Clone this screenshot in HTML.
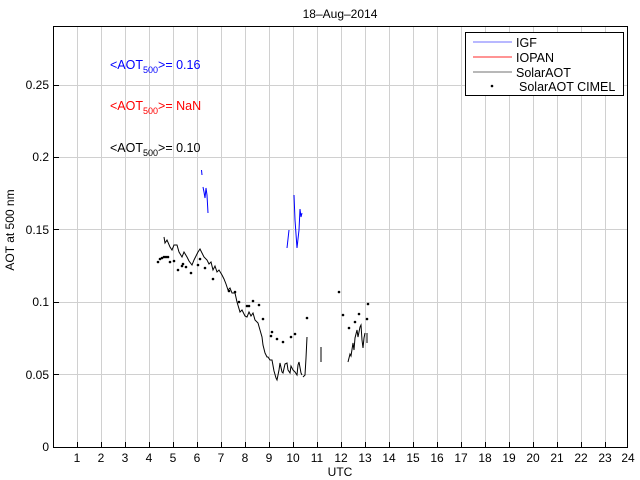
<!DOCTYPE html>
<html><head><meta charset="utf-8"><style>body{margin:0;background:#fff}svg{display:block}text{font-family:"Liberation Sans",sans-serif}</style></head>
<body>
<svg width="640" height="480" viewBox="0 0 640 480" xmlns="http://www.w3.org/2000/svg">
<rect width="640" height="480" fill="#fff"/>
<g stroke="#d0d0d0" stroke-width="1">
<line x1="77.5" y1="26" x2="77.5" y2="447"/><line x1="101.5" y1="26" x2="101.5" y2="447"/><line x1="125.5" y1="26" x2="125.5" y2="447"/><line x1="149.5" y1="26" x2="149.5" y2="447"/><line x1="173.5" y1="26" x2="173.5" y2="447"/><line x1="197.5" y1="26" x2="197.5" y2="447"/><line x1="221.5" y1="26" x2="221.5" y2="447"/><line x1="245.5" y1="26" x2="245.5" y2="447"/><line x1="269.5" y1="26" x2="269.5" y2="447"/><line x1="293.5" y1="26" x2="293.5" y2="447"/><line x1="317.5" y1="26" x2="317.5" y2="447"/><line x1="341.5" y1="26" x2="341.5" y2="447"/><line x1="365.5" y1="26" x2="365.5" y2="447"/><line x1="389.5" y1="26" x2="389.5" y2="447"/><line x1="413.5" y1="26" x2="413.5" y2="447"/><line x1="437.5" y1="26" x2="437.5" y2="447"/><line x1="461.5" y1="26" x2="461.5" y2="447"/><line x1="485.5" y1="26" x2="485.5" y2="447"/><line x1="509.5" y1="26" x2="509.5" y2="447"/><line x1="533.5" y1="26" x2="533.5" y2="447"/><line x1="557.5" y1="26" x2="557.5" y2="447"/><line x1="581.5" y1="26" x2="581.5" y2="447"/><line x1="605.5" y1="26" x2="605.5" y2="447"/>
<line x1="54" y1="374.5" x2="628" y2="374.5"/><line x1="54" y1="302.5" x2="628" y2="302.5"/><line x1="54" y1="229.5" x2="628" y2="229.5"/><line x1="54" y1="157.5" x2="628" y2="157.5"/><line x1="54" y1="85.5" x2="628" y2="85.5"/>
</g>
<rect x="53.5" y="26.5" width="574" height="421" fill="none" stroke="#000"/>
<g stroke="#000">
<line x1="77.5" y1="447" x2="77.5" y2="442"/><line x1="101.5" y1="447" x2="101.5" y2="442"/><line x1="125.5" y1="447" x2="125.5" y2="442"/><line x1="149.5" y1="447" x2="149.5" y2="442"/><line x1="173.5" y1="447" x2="173.5" y2="442"/><line x1="197.5" y1="447" x2="197.5" y2="442"/><line x1="221.5" y1="447" x2="221.5" y2="442"/><line x1="245.5" y1="447" x2="245.5" y2="442"/><line x1="269.5" y1="447" x2="269.5" y2="442"/><line x1="293.5" y1="447" x2="293.5" y2="442"/><line x1="317.5" y1="447" x2="317.5" y2="442"/><line x1="341.5" y1="447" x2="341.5" y2="442"/><line x1="365.5" y1="447" x2="365.5" y2="442"/><line x1="389.5" y1="447" x2="389.5" y2="442"/><line x1="413.5" y1="447" x2="413.5" y2="442"/><line x1="437.5" y1="447" x2="437.5" y2="442"/><line x1="461.5" y1="447" x2="461.5" y2="442"/><line x1="485.5" y1="447" x2="485.5" y2="442"/><line x1="509.5" y1="447" x2="509.5" y2="442"/><line x1="533.5" y1="447" x2="533.5" y2="442"/><line x1="557.5" y1="447" x2="557.5" y2="442"/><line x1="581.5" y1="447" x2="581.5" y2="442"/><line x1="605.5" y1="447" x2="605.5" y2="442"/>
<line x1="54" y1="374.5" x2="59" y2="374.5"/><line x1="54" y1="302.5" x2="59" y2="302.5"/><line x1="54" y1="229.5" x2="59" y2="229.5"/><line x1="54" y1="157.5" x2="59" y2="157.5"/><line x1="54" y1="85.5" x2="59" y2="85.5"/>
</g>
<g font-size="12" text-anchor="middle" fill="#000">
<text x="77" y="462">1</text><text x="101" y="462">2</text><text x="125" y="462">3</text><text x="149" y="462">4</text><text x="173" y="462">5</text><text x="197" y="462">6</text><text x="221" y="462">7</text><text x="245" y="462">8</text><text x="269" y="462">9</text><text x="293" y="462">10</text><text x="317" y="462">11</text><text x="341" y="462">12</text><text x="365" y="462">13</text><text x="389" y="462">14</text><text x="413" y="462">15</text><text x="437" y="462">16</text><text x="461" y="462">17</text><text x="485" y="462">18</text><text x="509" y="462">19</text><text x="533" y="462">20</text><text x="557" y="462">21</text><text x="581" y="462">22</text><text x="605" y="462">23</text><text x="628" y="462">24</text>
<text x="340" y="476">UTC</text>
<text x="340" y="18">18–Aug–2014</text>
</g>
<g font-size="12" text-anchor="end">
<text x="49" y="451">0</text><text x="49" y="379">0.05</text><text x="49" y="306">0.1</text><text x="49" y="234">0.15</text><text x="49" y="161">0.2</text><text x="49" y="89">0.25</text>
</g>
<text x="14" y="230" font-size="12" text-anchor="middle" transform="rotate(-90 14 230)">AOT at 500 nm</text>
<text x="110" y="69" font-size="12.5" fill="#0000ff">&lt;AOT<tspan font-size="9" dy="4">500</tspan><tspan dy="-4">&gt;= 0.16</tspan></text>
<text x="110" y="110" font-size="12.5" fill="#ff0000">&lt;AOT<tspan font-size="9" dy="4">500</tspan><tspan dy="-4">&gt;=  NaN</tspan></text>
<text x="110" y="152" font-size="12.5" fill="#000">&lt;AOT<tspan font-size="9" dy="4">500</tspan><tspan dy="-4">&gt;= 0.10</tspan></text>
<g fill="none" stroke="#000" stroke-width="1">
<polyline points="164,237 165,243 167,240 170,247 172,250 174,245 177,245 179,252 182,257 184,252 187,257 189,261 192,265 194,260 196,256 198,252 200,249 202,253 204,257 207,260 209,264 211,262 213,270 215,266 217,272 219,270 222,275 224,279 226,284 228,290 230,288 232,293 235,293 237,302 240,312 242,310 245,316 247,317 249,312 251,316 253,313 255,320 258,323 260,330 262,337 263,345 265,353 267,357 268,357 270,360 272,360 274,371 276,378 277,380 279,370 280,363 282,372 283,373 285,364 287,363 288,370 290,373 291,366 293,370 295,372 297,375 298,365 299,362 301,373 302,375"/>
<polyline points="303,377 305,375 306,358 307,337"/>
<polyline points="321,347 321,362"/>
<polyline points="348,362 350,354 351,356 353,343 354,350 355,338 357,330 358,337 360,327 361,325 362,340 363,348 364,338 365,333"/>
<polyline points="367,333 367,343"/>
</g>
<g fill="none" stroke="#0000ff" stroke-width="1">
<polyline points="201.5,170 202,175"/>
<polyline points="203,187 204,192 205,198 206,188 207,195 208,213"/>
<polyline points="287,248 289,230"/>
<polyline points="294,195 295,220 297,248 299,230 300,209 301,217 302,213"/>
</g>
<g fill="#000">
<circle cx="158" cy="262" r="1.3"/><circle cx="160" cy="259" r="1.3"/><circle cx="162" cy="258" r="1.3"/><circle cx="164" cy="257" r="1.3"/><circle cx="166" cy="257" r="1.3"/><circle cx="168" cy="257" r="1.3"/><circle cx="170" cy="262" r="1.3"/><circle cx="174" cy="261" r="1.3"/><circle cx="178" cy="270" r="1.3"/><circle cx="182" cy="266" r="1.3"/><circle cx="183" cy="264" r="1.3"/><circle cx="186" cy="267" r="1.3"/><circle cx="191" cy="273" r="1.3"/><circle cx="198" cy="265" r="1.3"/><circle cx="200" cy="259" r="1.3"/><circle cx="205" cy="268" r="1.3"/><circle cx="213" cy="279" r="1.3"/><circle cx="229" cy="291" r="1.3"/><circle cx="235" cy="292" r="1.3"/><circle cx="239" cy="302" r="1.3"/><circle cx="247" cy="306" r="1.3"/><circle cx="249" cy="306" r="1.3"/><circle cx="253" cy="301" r="1.3"/><circle cx="259" cy="305" r="1.3"/><circle cx="263" cy="319" r="1.3"/><circle cx="272" cy="332" r="1.3"/><circle cx="271" cy="336" r="1.3"/><circle cx="277" cy="339" r="1.3"/><circle cx="283" cy="342" r="1.3"/><circle cx="291" cy="337" r="1.3"/><circle cx="295" cy="334" r="1.3"/><circle cx="307" cy="318" r="1.3"/><circle cx="339" cy="292" r="1.3"/><circle cx="343" cy="315" r="1.3"/><circle cx="349" cy="328" r="1.3"/><circle cx="355" cy="322" r="1.3"/><circle cx="359" cy="314" r="1.3"/><circle cx="367" cy="319" r="1.3"/><circle cx="368" cy="304" r="1.3"/>
</g>
<rect x="465.5" y="32.5" width="158" height="63" fill="#fff" stroke="#000"/>
<line x1="473" y1="42" x2="512" y2="42" stroke="#a0a0ff" stroke-width="1.5"/>
<line x1="473" y1="57" x2="512" y2="57" stroke="#ff7070" stroke-width="1.5"/>
<line x1="473" y1="72" x2="512" y2="72" stroke="#a0a0a0" stroke-width="1.5"/>
<circle cx="492" cy="86" r="1.3" fill="#000"/>
<g font-size="12.5"><text x="516" y="47">IGF</text><text x="516" y="62">IOPAN</text><text x="516" y="77">SolarAOT</text><text x="519" y="91">SolarAOT CIMEL</text></g>
</svg>
</body></html>
